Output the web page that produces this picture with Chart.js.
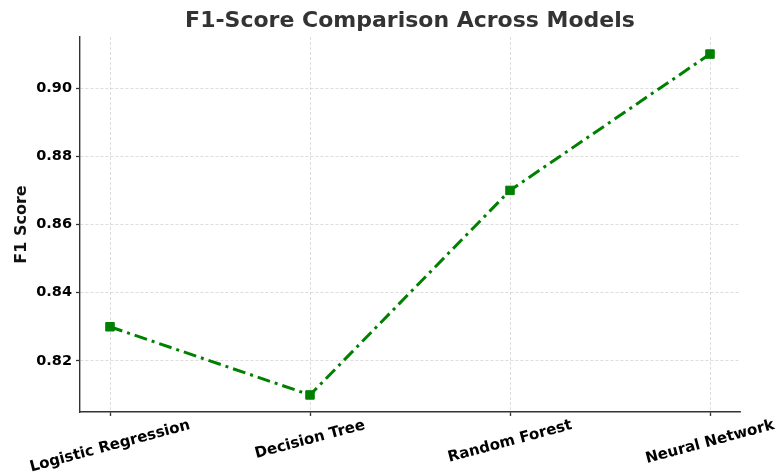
<!DOCTYPE html>
<html>
<head>
<meta charset="utf-8">
<script src="https://cdn.jsdelivr.net/npm/chart.js@4.4.1/dist/chart.umd.min.js"></script>
<style>
  html, body { margin: 0; padding: 0; background: #fff; }
  #wrap { width: 778px; height: 475px; position: relative; }
</style>
</head>
<body>
<div id="wrap"><canvas id="myChart"></canvas></div>
<script>
// data
const models = ["Logistic Regression", "Decision Tree", "Random Forest", "Neural Network"];
const f1Scores = [0.83, 0.81, 0.87, 0.91];
const yTicks = [0.82, 0.84, 0.86, 0.88, 0.90];

const titleChart = "F1-Score Comparison Across Models";
const lineGreen = "#008000";
const fontFamily = "'DejaVu Sans', sans-serif";

// x labels are centred under the tick and turned 15 degrees, like the reference
const rotatedLabels = {
  id: "rotatedLabels",
  afterDraw(chart) {
    const ctx = chart.ctx;
    const xScale = chart.scales.x;
    const area = chart.chartArea;
    const angle = 15 * Math.PI / 180;
    ctx.save();
    ctx.fillStyle = "#000";
    ctx.font = "bold 15px " + fontFamily;
    ctx.textAlign = "center";
    ctx.textBaseline = "middle";
    models.forEach((label, i) => {
      const px = xScale.getPixelForValue(i);
      const w = ctx.measureText(label).width;
      const cy = area.bottom + 13 + (w * Math.sin(angle)) / 2;
      ctx.save();
      ctx.translate(px, cy);
      ctx.rotate(-angle);
      ctx.fillText(label, 0, 0);
      ctx.restore();
    });
    // title centred over the plot area
    ctx.fillStyle = "#333";
    ctx.font = "bold 22px " + fontFamily;
    ctx.textBaseline = "alphabetic";
    ctx.fillText(titleChart, (area.left + area.right) / 2, 26.5);
    ctx.restore();
  }
};

const gridStyle = {
  color: "rgba(205, 205, 205, 0.85)",
  lineWidth: 0.8,
  tickColor: "#333",
  tickLength: 4,
  tickWidth: 1.3,
  tickBorderDash: [],
  drawTicks: true
};

new Chart("myChart", {
  type: "line",
  data: {
    datasets: [
      {
        data: models.map((m, i) => ({ x: i, y: f1Scores[i] })),
        borderColor: lineGreen,
        backgroundColor: lineGreen,
        borderWidth: 3,
        borderDash: [13, 5, 3, 5],
        pointStyle: "rect",
        pointRadius: 6,
        pointBorderWidth: 1,
        pointBorderColor: lineGreen,
        pointBackgroundColor: lineGreen,
        tension: 0,
        fill: false
      }
    ]
  },
  options: {
    responsive: true,
    maintainAspectRatio: false,
    animation: false,
    events: [],
    layout: { padding: { top: 37, right: 38, left: 0, bottom: 0 } },
    plugins: {
      legend: { display: false },
      title: { display: false },
      tooltip: { enabled: false }
    },
    scales: {
      x: {
        type: "linear",
        min: -0.15,
        max: 3.15,
        afterBuildTicks: (scale) => {
          scale.ticks = models.map((m, i) => ({ value: i }));
        },
        afterFit: (scale) => { scale.height = 63; },
        ticks: { display: false },
        grid: gridStyle,
        border: { display: true, color: "#333", width: 1.4, dash: [3, 2] }
      },
      y: {
        type: "linear",
        min: 0.805,
        max: 0.915,
        afterBuildTicks: (scale) => {
          scale.ticks = yTicks.map((v) => ({ value: v }));
        },
        afterFit: (scale) => { scale.width = 80; },
        ticks: {
          color: "#000",
          padding: 4,
          font: { family: fontFamily, size: 14.5, weight: "bold" },
          callback: (v) => v.toFixed(2)
        },
        grid: gridStyle,
        border: { display: true, color: "#333", width: 1.4, dash: [3, 2] },
        title: {
          display: true,
          text: "F1 Score",
          color: "#111",
          padding: { top: 12, bottom: 4 },
          font: { family: fontFamily, size: 16, weight: "bold" }
        }
      }
    }
  },
  plugins: [rotatedLabels]
});
</script>
</body>
</html>
